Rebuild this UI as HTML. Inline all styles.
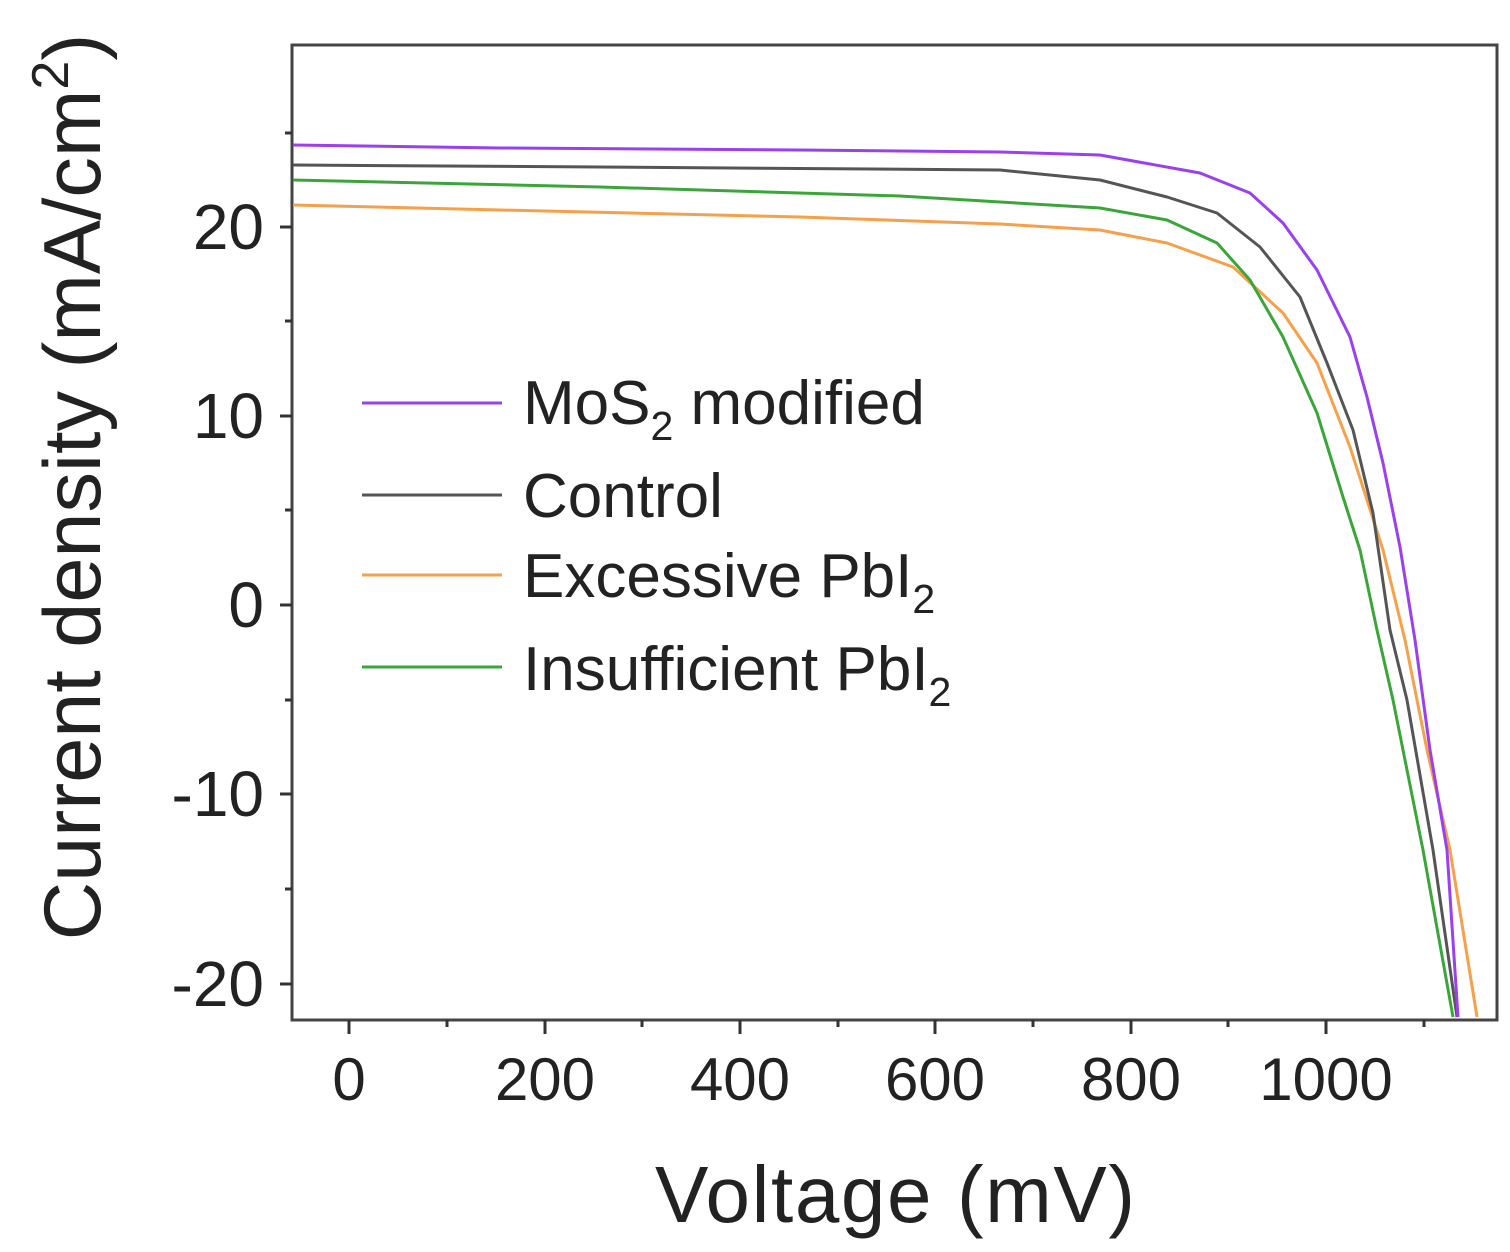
<html><head><style>body{margin:0;background:#fff}svg text{font-family:"Liberation Sans",sans-serif;fill:#222}</style></head><body>
<svg width="1510" height="1252" viewBox="0 0 1510 1252" xmlns="http://www.w3.org/2000/svg">
<rect x="292" y="45" width="1205" height="975" fill="none" stroke="#444" stroke-width="3"/>
<g stroke="#333" stroke-width="3">
<line x1="280" y1="227" x2="292" y2="227"/><line x1="280" y1="416" x2="292" y2="416"/><line x1="280" y1="605" x2="292" y2="605"/><line x1="280" y1="794" x2="292" y2="794"/><line x1="280" y1="984" x2="292" y2="984"/>
<line x1="285" y1="133" x2="292" y2="133"/><line x1="285" y1="321" x2="292" y2="321"/><line x1="285" y1="510" x2="292" y2="510"/><line x1="285" y1="700" x2="292" y2="700"/><line x1="285" y1="889" x2="292" y2="889"/>
<line x1="349" y1="1020" x2="349" y2="1034"/><line x1="545" y1="1020" x2="545" y2="1034"/><line x1="740" y1="1020" x2="740" y2="1034"/><line x1="935" y1="1020" x2="935" y2="1034"/><line x1="1131" y1="1020" x2="1131" y2="1034"/><line x1="1326" y1="1020" x2="1326" y2="1034"/>
<line x1="447" y1="1020" x2="447" y2="1027"/><line x1="642" y1="1020" x2="642" y2="1027"/><line x1="838" y1="1020" x2="838" y2="1027"/><line x1="1033" y1="1020" x2="1033" y2="1027"/><line x1="1228" y1="1020" x2="1228" y2="1027"/><line x1="1424" y1="1020" x2="1424" y2="1027"/>
</g>
<g font-size="64" text-anchor="end">
<text x="264" y="249">20</text><text x="264" y="438">10</text><text x="264" y="627">0</text><text x="264" y="816">-10</text><text x="264" y="1006">-20</text>
</g>
<g font-size="60" text-anchor="middle">
<text x="349" y="1100">0</text><text x="545" y="1100">200</text><text x="740" y="1100">400</text><text x="935" y="1100">600</text><text x="1131" y="1100">800</text><text x="1326" y="1100">1000</text>
</g>
<text x="895" y="1222" font-size="80" text-anchor="middle" textLength="480">Voltage (mV)</text>
<text transform="translate(100,487) rotate(-90)" font-size="81" text-anchor="middle">Current density (mA/cm<tspan font-size="52" dy="-32">2</tspan><tspan dy="32">)</tspan></text>
<g fill="none" stroke-width="3" stroke-linejoin="round">
<polyline stroke="#f7a04a" points="293,205 500,210 800,217 1000,224 1100,230 1167,243 1233,267 1283,313 1317,363 1350,447 1367,500 1383,550 1405,640 1427,750 1450,850 1477,1017"/>
<polyline stroke="#3aa63a" points="293,180 600,187 900,196 1100,208 1167,220 1217,243 1250,280 1283,337 1317,413 1343,497 1360,550 1377,630 1393,700 1423,850 1453,1017"/>
<polyline stroke="#555" points="293,165 600,167 1000,170 1100,180 1167,197 1217,213 1260,247 1300,297 1327,363 1353,430 1373,513 1390,630 1407,700 1433,850 1457,1017"/>
<polyline stroke="#9a40f0" points="293,145 500,148 800,150 1000,152 1100,155 1200,173 1250,193 1283,223 1317,270 1350,337 1367,397 1383,463 1400,547 1415,640 1430,750 1447,850 1458,1017"/>
</g>
<g stroke-width="3">
<line x1="362" y1="403" x2="502" y2="403" stroke="#9a40f0"/><line x1="362" y1="495" x2="502" y2="495" stroke="#555"/><line x1="362" y1="575" x2="502" y2="575" stroke="#f7a04a"/><line x1="362" y1="667" x2="502" y2="667" stroke="#3aa63a"/>
</g>
<g font-size="62">
<text x="523" y="424">MoS<tspan font-size="41" dy="16">2</tspan><tspan dy="-16"> modified</tspan></text>
<text x="523" y="517">Control</text>
<text x="523" y="597">Excessive PbI<tspan font-size="41" dy="16">2</tspan></text>
<text x="523" y="690">Insufficient PbI<tspan font-size="41" dy="16">2</tspan></text>
</g>
</svg></body></html>
